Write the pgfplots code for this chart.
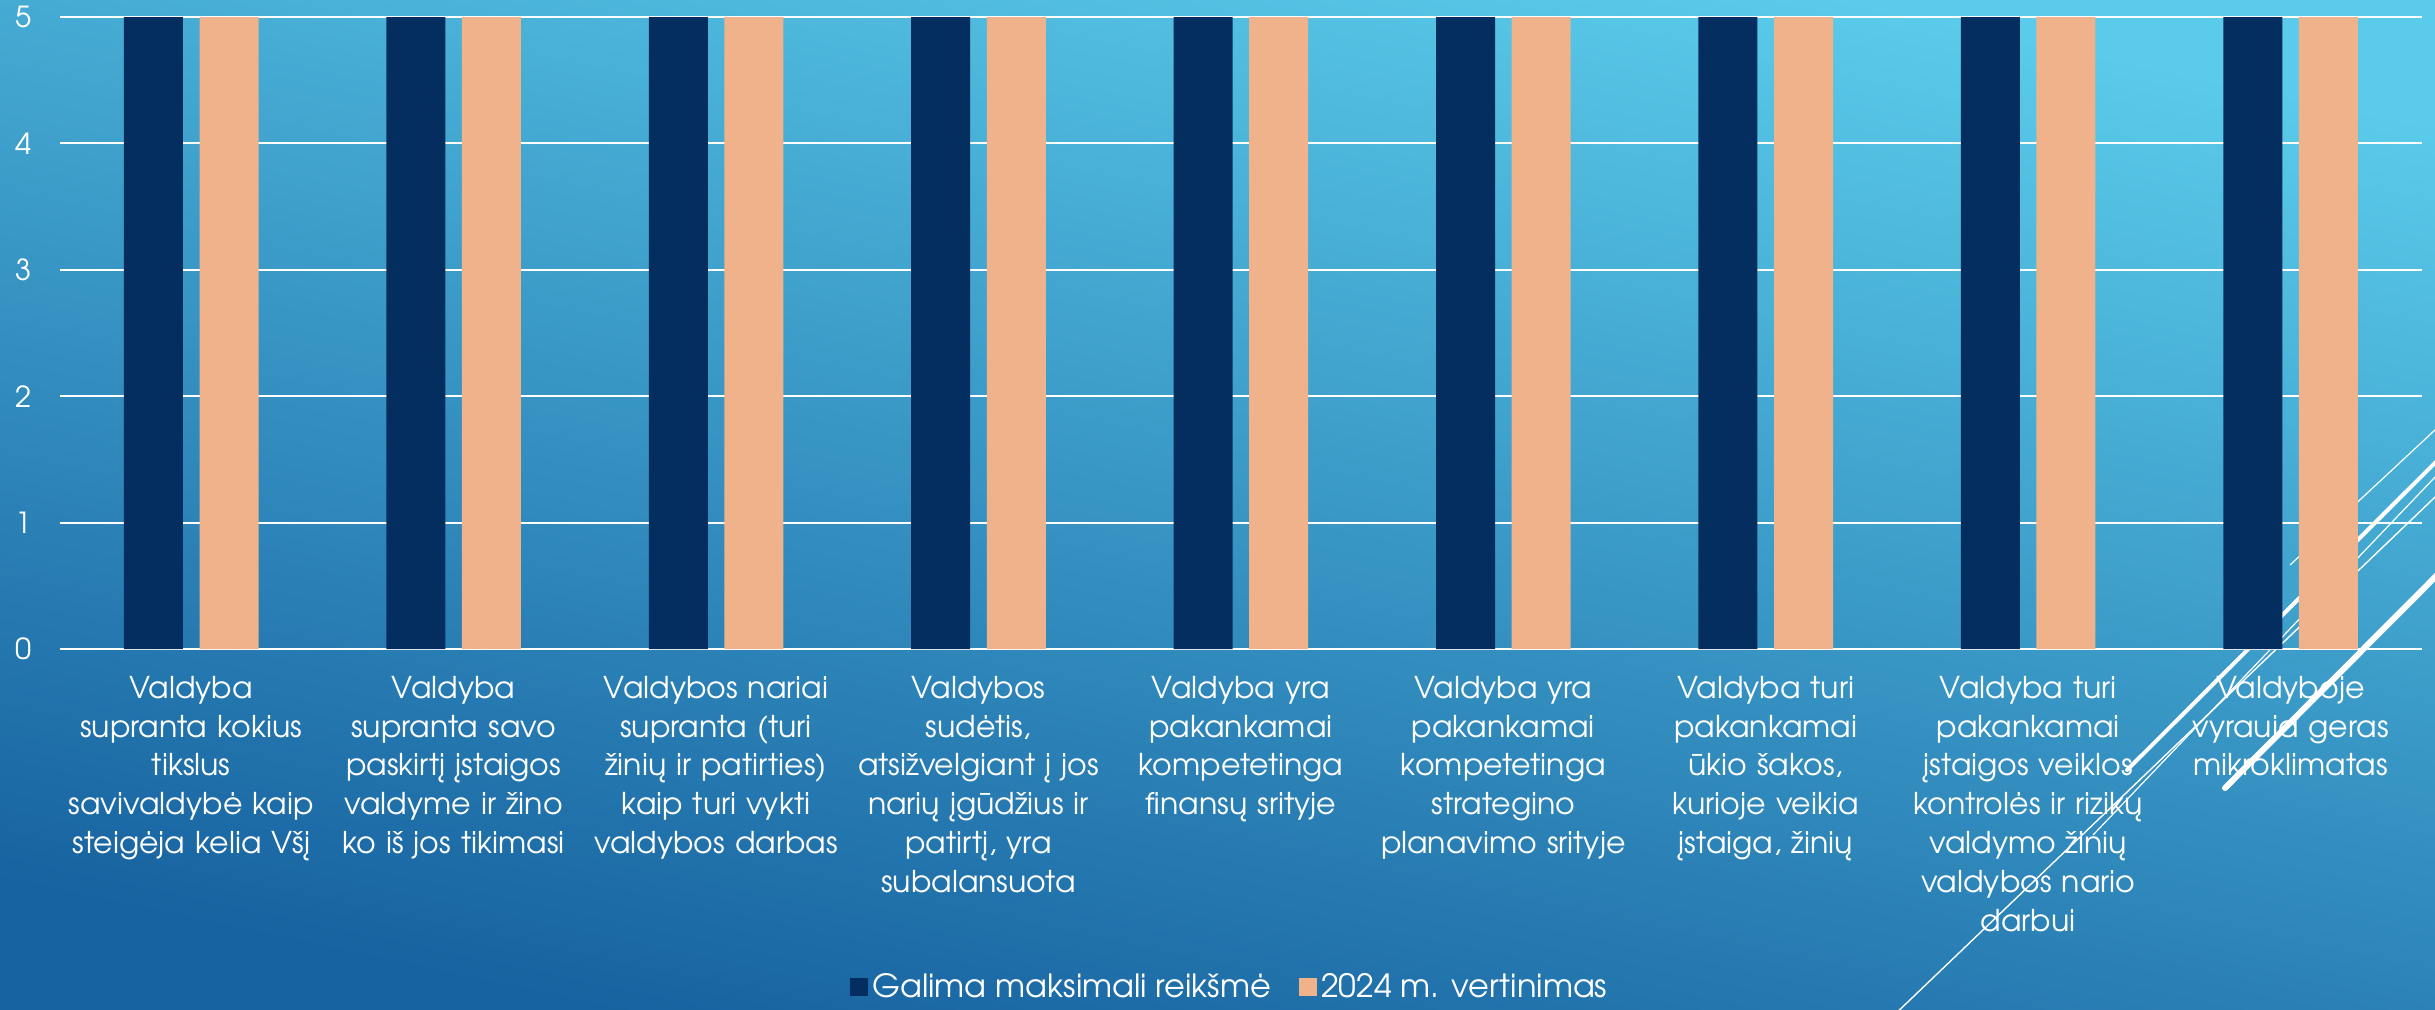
\documentclass[border=0pt]{standalone}
\usepackage{fontspec}
\setmainfont{texgyreadventor}[Extension=.otf, UprightFont=*-regular, BoldFont=*-bold]
\usepackage{pgfplots}
\pgfplotsset{compat=1.18}
\definecolor{navy}{HTML}{052E60}
\definecolor{peach}{HTML}{F0B28A}
\definecolor{bgtop}{HTML}{5ACBEA}
\definecolor{bgbot}{HTML}{1762A0}
\begin{document}
\begin{tikzpicture}
\useasboundingbox (0,0) rectangle (1217.5pt,504.5pt);
\shade[top color=bgtop, bottom color=bgbot, shading angle=-12] (0,0) rectangle (1217.5pt,504.5pt);
\begin{scope}
\clip (0,0) rectangle (1217.5pt,504.5pt);
\draw[white, line width=0.7pt] (945pt,-5pt) -- (1240pt,277.5pt);
\draw[white, line width=0.6pt] (1046.5pt,87pt) -- (1240pt,289.5pt);
\draw[white, line width=2pt, line cap=round] (1063.5pt,119.5pt) -- (1240pt,295.5pt);
\draw[white, line width=3pt, line cap=round] (1112.5pt,110.5pt) -- (1240pt,238.5pt);
\draw[white, line width=0.6pt] (1145pt,222pt) -- (1240pt,310.5pt);
\end{scope}
\begin{axis}[
  at={(30pt,180pt)}, anchor=south west,
  scale only axis, width=1181pt, height=316pt,
  xmin=-0.5, xmax=8.5, ymin=0, ymax=5,
  ybar=8.3pt, bar width=29.5pt,
  axis line style={draw=none},
  major tick length=0pt,
  ymajorgrids, major grid style={white, line width=1pt},
  ytick={0,1,2,3,4,5},
  xtick={0,1,2,3,4,5,6,7,8},
  /pgf/number format/assume math mode=true,
  yticklabel style={text=white, font=\fontsize{14.5}{17}\selectfont, anchor=east, xshift=-10.8pt},
  xticklabel style={text=white, anchor=north, yshift=-10pt, align=center, text width=135pt, font=\fontsize{15}{19.4}\selectfont},
  xticklabels={
    {Valdyba\\supranta kokius\\tikslus\\savivaldybė kaip\\steigėja kelia Všį},
    {Valdyba\\supranta savo\\paskirtį įstaigos\\valdyme ir žino\\ko iš jos tikimasi},
    {Valdybos nariai\\supranta (turi\\žinių ir patirties)\\kaip turi vykti\\valdybos darbas},
    {Valdybos\\sudėtis,\\atsižvelgiant į jos\\narių įgūdžius ir\\patirtį, yra\\subalansuota},
    {Valdyba yra\\pakankamai\\kompetetinga\\finansų srityje},
    {Valdyba yra\\pakankamai\\kompetetinga\\strategino\\planavimo srityje},
    {Valdyba turi\\pakankamai\\ūkio šakos,\\kurioje veikia\\įstaiga, žinių},
    {Valdyba turi\\pakankamai\\įstaigos veiklos\\kontrolės ir rizikų\\valdymo žinių\\valdybos nario\\darbui},
    {Valdyboje\\vyrauja geras\\mikroklimatas}
  },
  legend image code/.code={\fill[#1, draw=none] (0pt,-4.5pt) rectangle (9pt,4.5pt);},
  legend style={at={(rel axis cs:0.5,0)}, anchor=south, xshift=-5pt, yshift=-178pt,
    draw=none, fill=none, inner sep=0pt, text=white, font=\fontsize{16}{19}\selectfont,
    legend columns=2, /tikz/every even column/.append style={column sep=12pt}},
]
\addplot[fill=navy, draw=none] coordinates {(0,5) (1,5) (2,5) (3,5) (4,5) (5,5) (6,5) (7,5) (8,5)};
\addplot[fill=peach, draw=none] coordinates {(0,5) (1,5) (2,5) (3,5) (4,5) (5,5) (6,5) (7,5) (8,5)};
\legend{Galima maksimali reikšmė, 2024 m. vertinimas}
\end{axis}
\end{tikzpicture}
\end{document}
